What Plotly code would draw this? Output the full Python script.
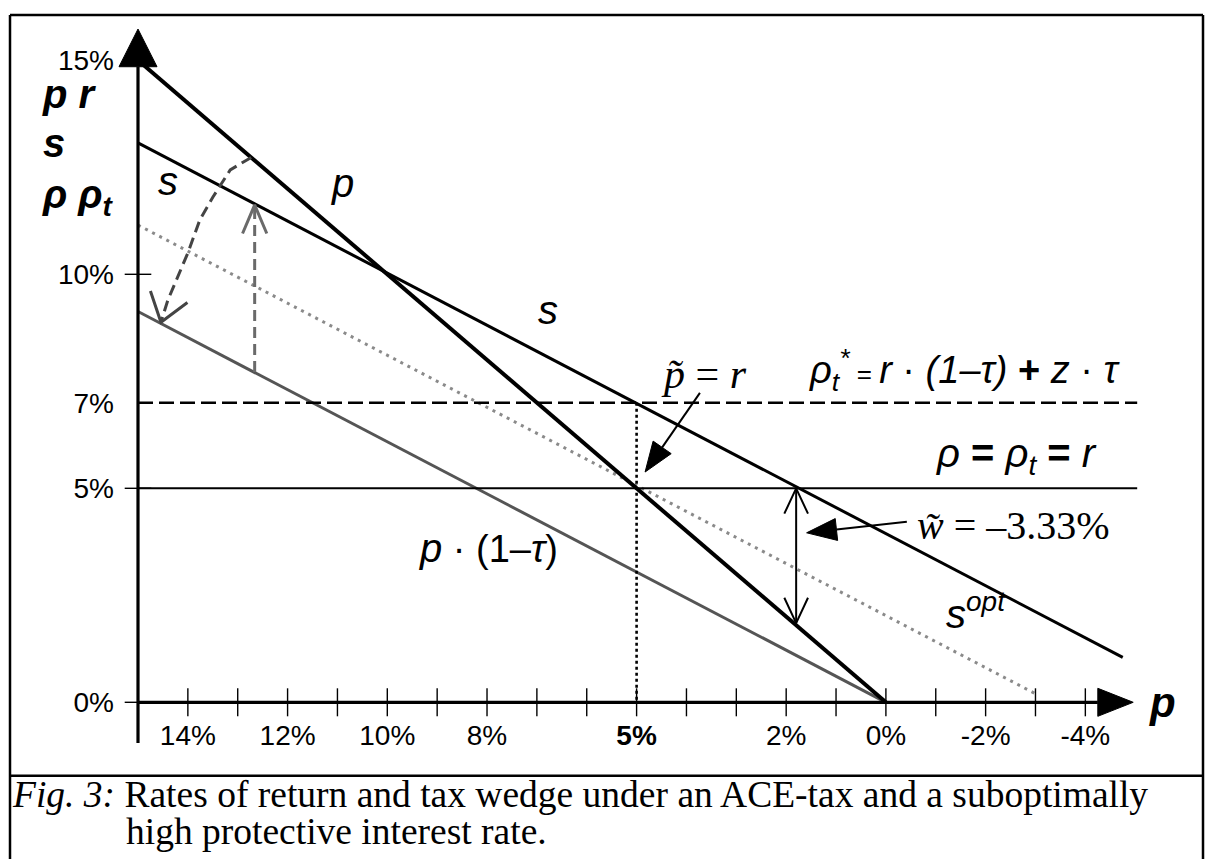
import math
import plotly.graph_objects as go

# ---------------- data (percent) ----------------
X_TICKS = [14, 13, 12, 11, 10, 9, 8, 7, 6, 5, 4, 3, 2, 1, 0, -1, -2, -3, -4]
X_LABEL_VALUES = [14, 12, 10, 8, 5, 2, 0, -2, -4]
X_LABEL_TEXT = ["14%", "12%", "10%", "8%", "<b>5%</b>", "2%", "0%", "-2%", "-4%"]
Y_LABEL_VALUES = [0, 5, 7, 10, 15]
Y_LABEL_TEXT = ["0%", "5%", "7%", "10%", "15%"]
Y_TICKS = [0, 5, 10]

P_X = [15.0, 0.0]            # pre-tax return p
P_Y = [15.0, 0.0]
S_X = [15.0, -4.75]          # s (suboptimal)
S_Y = [13.07, 1.05]
S_OPT_X = [15.0, -3.0]       # s^opt (dotted)
S_OPT_Y = [11.15, 0.2]
NET_X = [15.0, 0.0]          # p*(1-tau)
NET_Y = [9.13, 0.0]
R_RATE = 5.0                 # rho = rho_t = r
RHO_STAR = 7.0               # rho_t*
P_TILDE = 5.0                # p~ = r
LEVEL_END_X = -5.04
WEDGE_X = 1.8                # w~ double arrow
WEDGE_Y = [5.0, 1.85]
LIFT_X = 12.66               # dashed vertical arrow
LIFT_Y = [7.72, 11.62]
SHIFT_X = [12.73, 13.15, 13.50, 13.76, 14.00, 14.22, 14.40, 14.54]   # curved dashed arrow
SHIFT_Y = [12.73, 12.44, 11.80, 11.27, 10.50, 9.87, 9.40, 8.88]
AXIS_X_END = [-4.25, -4.96]  # arrow base, tip of horizontal axis
AXIS_Y_END = [14.85, 15.73]  # arrow base, tip of vertical axis
AXIS_Y_BOTTOM = -0.95
PT_ARROW = [(3.73, 7.23), (4.83, 5.38)]    # tail, tip
W_ARROW = [(-0.42, 4.22), (1.59, 3.96)]    # tail, tip

# ---------------- geometry of the page ----------------
W, H = 1209, 859
X0_PX, Y0_PX = 138.0, 702.3      # pixel of (p = 15 %, rate = 0 %)
KX, KY = 49.86, 42.8             # pixels per percentage point
XA = 15.0


def to_px(x, y):
    return X0_PX + (XA - x) * KX, Y0_PX - y * KY


def from_px(px, py):
    return XA - (px - X0_PX) / KX, (Y0_PX - py) / KY


x_range = [from_px(0, 0)[0], from_px(W, 0)[0]]
y_range = [from_px(0, H)[1], from_px(0, 0)[1]]

SANS = "Liberation Sans, Arial, sans-serif"
SERIF = "Liberation Serif, Times New Roman, serif"

fig = go.Figure()


def line(xs, ys, color="black", width=2.0, dash=None):
    fig.add_trace(go.Scatter(x=xs, y=ys, mode="lines",
                             line=dict(color=color, width=width, dash=dash),
                             hoverinfo="skip", showlegend=False))


def open_head(tip, prev, length=27, half=25, color="black", width=2.0):
    tx, ty = to_px(*tip)
    qx, qy = to_px(*prev)
    dx, dy = qx - tx, qy - ty
    n = math.hypot(dx, dy)
    ux, uy = dx / n, dy / n
    pts = []
    for s in (1, -1):
        a = math.radians(half) * s
        rx = ux * math.cos(a) - uy * math.sin(a)
        ry = ux * math.sin(a) + uy * math.cos(a)
        pts.append(from_px(tx + rx * length, ty + ry * length))
    line([pts[0][0], tip[0], pts[1][0]], [pts[0][1], tip[1], pts[1][1]], color=color, width=width)


def filled_tri(tip, base, half_w, color="black"):
    tx, ty = to_px(*tip)
    bx, by = to_px(*base)
    dx, dy = tx - bx, ty - by
    n = math.hypot(dx, dy)
    nx, ny = -dy / n, dx / n
    a = from_px(bx + nx * half_w, by + ny * half_w)
    b = from_px(bx - nx * half_w, by - ny * half_w)
    fig.add_trace(go.Scatter(x=[a[0], tip[0], b[0], a[0]], y=[a[1], tip[1], b[1], a[1]],
                             mode="lines", fill="toself", fillcolor=color,
                             line=dict(color=color, width=1), hoverinfo="skip", showlegend=False))


def pointer(tail, tip, head_len=30, half_w=11, width=2):
    tx, ty = to_px(*tip)
    qx, qy = to_px(*tail)
    n = math.hypot(qx - tx, qy - ty)
    base = from_px(tx + (qx - tx) / n * head_len, ty + (qy - ty) / n * head_len)
    line([tail[0], base[0]], [tail[1], base[1]], width=width)
    filled_tri(tip, base, half_w)


# rate lines
line(S_OPT_X, S_OPT_Y, color="#8a8a8a", width=3, dash="3px,5px")
line(NET_X, NET_Y, color="#555555", width=3)
line([XA, LEVEL_END_X], [RHO_STAR, RHO_STAR], color="black", width=2.6, dash="15px,6px")
line([XA, LEVEL_END_X], [R_RATE, R_RATE], color="black", width=2)
line([P_TILDE, P_TILDE], [RHO_STAR, 0], color="black", width=2.6, dash="3px,3px")
line(S_X, S_Y, color="black", width=3)
line(P_X, P_Y, color="black", width=4)

# wedge double arrow
line([WEDGE_X, WEDGE_X], WEDGE_Y, color="black", width=2)
open_head((WEDGE_X, WEDGE_Y[0]), (WEDGE_X, WEDGE_Y[1]), length=28, half=25, width=2)
open_head((WEDGE_X, WEDGE_Y[1]), (WEDGE_X, WEDGE_Y[0]), length=28, half=25, width=2)

# gray dashed arrows
line([LIFT_X, LIFT_X], LIFT_Y, color="#6a6a6a", width=3, dash="11px,6px")
open_head((LIFT_X, LIFT_Y[1]), (LIFT_X, LIFT_Y[0]), length=31, half=23, color="#6a6a6a", width=3)
line(SHIFT_X, SHIFT_Y, color="#444444", width=3, dash="11px,6px")
open_head((SHIFT_X[-1], SHIFT_Y[-1]), (SHIFT_X[-2], SHIFT_Y[-2]), length=33, half=36,
          color="#444444", width=3)

# pointer arrows with filled heads
pointer(*PT_ARROW)
pointer(*W_ARROW)

# axes with arrows
line([XA, XA], [AXIS_Y_BOTTOM, AXIS_Y_END[0]], color="black", width=3.2)
line([XA, AXIS_X_END[0]], [0, 0], color="black", width=3.2)
filled_tri((XA, AXIS_Y_END[1]), (XA, AXIS_Y_END[0]), 19)
filled_tri((AXIS_X_END[1], 0), (AXIS_X_END[0], 0), 14)
fig.add_trace(go.Scatter(x=X_TICKS, y=[0] * len(X_TICKS), mode="markers",
                         marker=dict(symbol="line-ns", size=20, line=dict(color="black", width=1.4)),
                         hoverinfo="skip", showlegend=False))
fig.add_trace(go.Scatter(x=[XA] * len(Y_TICKS), y=Y_TICKS, mode="markers",
                         marker=dict(symbol="line-ew", size=19, line=dict(color="black", width=1.4)),
                         hoverinfo="skip", showlegend=False))


def label(px, baseline, text, size=40, family=SANS, pos="middle right"):
    """Text placed by the left edge (or centre) and baseline, in page pixels."""
    x, y = from_px(px, baseline - 0.35 * size)
    fig.add_trace(go.Scatter(x=[x], y=[y], mode="text", text=[text], textposition=pos,
                             textfont=dict(family=family, size=size, color="black"),
                             cliponaxis=False, hoverinfo="skip", showlegend=False))


# axis title on the left
label(43, 112, "<b><i>p r</i></b>", 40)
label(43, 161, "<b><i>s</i></b>", 40)
label(43, 212, "<b><i>ρ ρ<sub>t</sub></i></b>", 40)
# curve labels
label(332, 201, "<i>p</i>", 40)
label(158, 199, "<i>s</i>", 40)
label(538, 328, "<i>s</i>", 40)
label(664, 392, "<i>p\u0303</i> = <i>r</i>", 42, SERIF)
label(810, 387, "<i>ρ<sub>t</sub><sup>*</sup></i><span style='font-size:26px'> = </span>"
                "<i>r</i> · <i>(1–τ)</i> <b>+</b> <i>z</i> · <i>τ</i>", 38)
label(937, 471, "<i>ρ</i> <b>=</b> <i>ρ<sub>t</sub></i> <b>=</b> <i>r</i>", 40)
label(917, 543, "<i>w\u0303</i> = –3.33%", 40, SERIF)
label(946, 632, "<i>s<sup>opt</sup></i>", 40)
label(420, 566, "<i>p</i><span style='font-size:38px'> · (1–<i>τ</i>)</span>", 40)
label(1150, 721, "<b><i>p</i></b>", 42)

# caption
label(13, 810.7, "<i>Fig. 3:</i> Rates of return and tax wedge under an ACE-tax and a suboptimally",
      37.5, SERIF)
label(126, 848, "high protective interest rate.", 37.5, SERIF)

# frame
shapes = []
for x0, y0, x1, y1 in [(10, 15, 1203, 15), (10, 15, 10, H), (1203, 15, 1203, H),
                       (10, 775.7, 1203, 775.7)]:
    shapes.append(dict(type="line", xref="paper", yref="paper", x0=x0 / W, x1=x1 / W,
                       y0=1 - y0 / H, y1=1 - y1 / H, line=dict(color="black", width=2.5)))

fig.update_layout(
    width=W, height=H, margin=dict(l=0, r=0, t=0, b=0),
    paper_bgcolor="white", plot_bgcolor="white", showlegend=False, shapes=shapes,
    xaxis=dict(range=x_range, anchor="free", position=1 - Y0_PX / H, showgrid=False,
               zeroline=False, showline=False, ticks="", tickvals=X_LABEL_VALUES,
               ticktext=X_LABEL_TEXT, ticklabelstandoff=14,
               tickfont=dict(family=SANS, size=28, color="black"), fixedrange=True),
    yaxis=dict(range=y_range, anchor="free", position=X0_PX / W, showgrid=False,
               zeroline=False, showline=False, ticks="", tickvals=Y_LABEL_VALUES,
               ticktext=Y_LABEL_TEXT, ticklabelstandoff=24,
               tickfont=dict(family=SANS, size=28, color="black"), fixedrange=True),
)

fig.write_html("out.html", config={"displayModeBar": False},
               post_script="document.body.style.margin='0';")
